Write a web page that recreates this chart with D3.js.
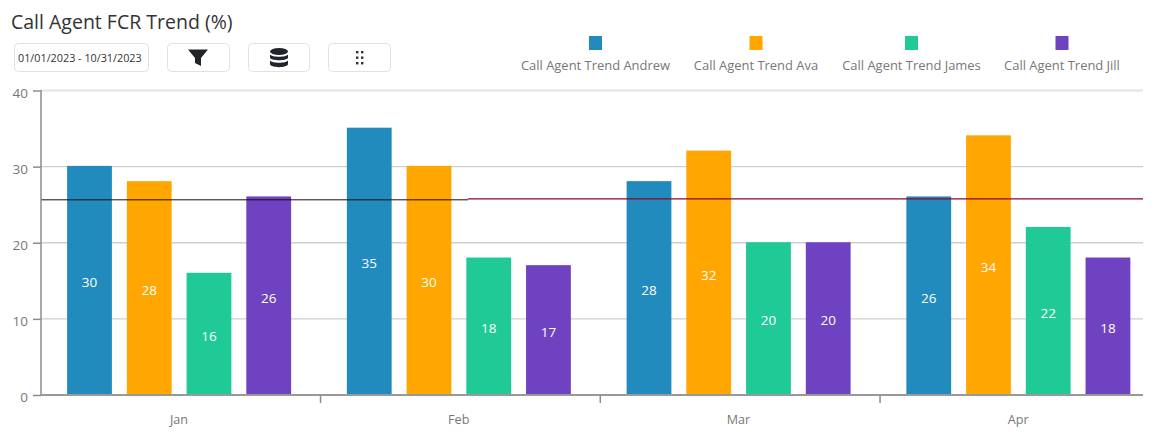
<!DOCTYPE html>
<html><head><meta charset="utf-8">
<script src="https://cdn.jsdelivr.net/npm/d3@7"></script>
<style>html,body{margin:0;padding:0;background:#fff}svg{display:block}text{font-family:"Open Sans","Noto Sans",sans-serif}</style>
</head><body><svg id="c" width="1154" height="434"></svg>
<script>
const months=["Jan","Feb","Mar","Apr"];
const seriesNames=["Call Agent Trend Andrew","Call Agent Trend Ava","Call Agent Trend James","Call Agent Trend Jill"];
const andrew=[30,35,28,26];
const ava=[28,30,32,34];
const james=[16,18,20,22];
const jill=[26,17,20,18];
const colors=["#228bbe","#ffa600","#1fca96","#6f42c1"];
const yTicks=[0,10,20,30,40];
const targetValues=[25.64,25.77];
const series=[andrew,ava,james,jill];

const svg=d3.select("#c");
const y=d3.scaleLinear().domain([0,40]).range([395,90.5]);
const yBar=d3.scaleLinear().domain([0,40]).range([395,89.5]);
const x0=d3.scaleBand().domain(months).range([39.1,1158.1]).paddingInner(0).paddingOuter(0);
const x1=d3.scaleBand().domain(d3.range(4)).range([28,252]).paddingInner(0.25).paddingOuter(0);
const L=41,R=1143;

// title
svg.append("text").attr("x",11).attr("y",29).attr("font-size",19.5).attr("fill","#333").text("Call Agent FCR Trend (%)");

// controls
function box(x,w,y0,h){svg.append("rect").attr("x",x+.5).attr("y",y0+.5).attr("width",w).attr("height",h).attr("rx",4).attr("fill","#fff").attr("stroke","#dfe1e3");}
box(14,134,43,28);
svg.append("text").attr("x",18).attr("y",62).attr("font-size",10.8).attr("fill","#333").text("01/01/2023 - 10/31/2023");
box(167,62,43,28);box(248,61,43,28);box(328,62,43,28);
svg.append("path").attr("d","M188 49.5H208L201 58V66L195 63V58Z").attr("fill","#212529");
const db=svg.append("g").attr("fill","#212529");
db.append("ellipse").attr("cx",279).attr("cy",51.5).attr("rx",9).attr("ry",3.5);
db.append("path").attr("d","M270 54.5C272 57.5 286 57.5 288 54.5V58C286 61 272 61 270 58Z");
db.append("path").attr("d","M270 60.5C272 63.5 286 63.5 288 60.5V64.5C286 68 272 68 270 64.5Z");
[[357,52],[362,52],[357,57.5],[362,57.5],[357,63],[362,63]].forEach(d=>svg.append("rect").attr("x",d[0]-1).attr("y",d[1]-1).attr("width",2.4).attr("height",2.4).attr("fill","#333"));

// legend
const legendCx=[595.5,756,911.5,1062];
seriesNames.forEach((n,i)=>{
  svg.append("rect").attr("x",legendCx[i]-6.5).attr("y",36).attr("width",13).attr("height",14).attr("fill",colors[i]);
  svg.append("text").attr("x",legendCx[i]).attr("y",70).attr("text-anchor","middle").attr("font-size",12.95).attr("fill","#777").text(n);
});

// grid
svg.append("g").selectAll("line").data(yTicks.filter(d=>d>0)).join("line")
  .attr("x1",L).attr("x2",R).attr("y1",d=>y(d)).attr("y2",d=>y(d))
  .attr("stroke",d=>d===40?"#e3e3e3":"#cfcfcf").attr("stroke-width",d=>d===40?2:1.3);

// bars
months.forEach((m,mi)=>{
  series.forEach((s,si)=>{
    const bx=x0(m)+x1(si), bw=x1.bandwidth();
    svg.append("rect").attr("x",bx).attr("y",yBar(s[mi])).attr("width",bw).attr("height",yBar(0)-yBar(s[mi])).attr("fill",colors[si]);
    svg.append("text").attr("x",bx+bw/2).attr("y",(y(s[mi])+y(0))/2+6.5).attr("text-anchor","middle").attr("font-size",13.5).attr("fill","#fff").text(s[mi]);
  });
});

// reference lines
svg.append("line").attr("x1",L).attr("x2",468).attr("y1",y(targetValues[0])).attr("y2",y(targetValues[0])).attr("stroke","#1c0a0e").attr("stroke-width",1);
svg.append("line").attr("x1",468).attr("x2",R).attr("y1",y(targetValues[1])).attr("y2",y(targetValues[1])).attr("stroke","#8a0626").attr("stroke-width",1.2);

// axes
const ya=d3.axisLeft(y).tickValues(yTicks).tickSize(8).tickPadding(5);
const yg=svg.append("g").attr("transform",`translate(${L},0)`).call(ya);
yg.selectAll("path,line").attr("stroke","#8c8c8c").attr("stroke-width",1.5);
yg.select("path").attr("d","M0,90V395");
yg.selectAll("text").attr("font-size",13.5).attr("fill","#777").attr("dy","0.5em").attr("font-family",'"Open Sans"');

const xa=d3.axisBottom(x0).tickSize(0).tickPadding(20);
const xg=svg.append("g").attr("transform","translate(0,395)").call(xa);
xg.select("path").attr("d",`M${L},0H${R}`).attr("stroke","#999").attr("stroke-width",2);
xg.selectAll("text").attr("font-size",12.6).attr("fill","#777").attr("font-family",'"Open Sans"');
svg.append("g").selectAll("line").data(months.slice(1)).join("line")
  .attr("x1",d=>x0(d)+1.7).attr("x2",d=>x0(d)+1.7).attr("y1",395).attr("y2",403).attr("stroke","#8c8c8c").attr("stroke-width",1.5);
</script></body></html>
